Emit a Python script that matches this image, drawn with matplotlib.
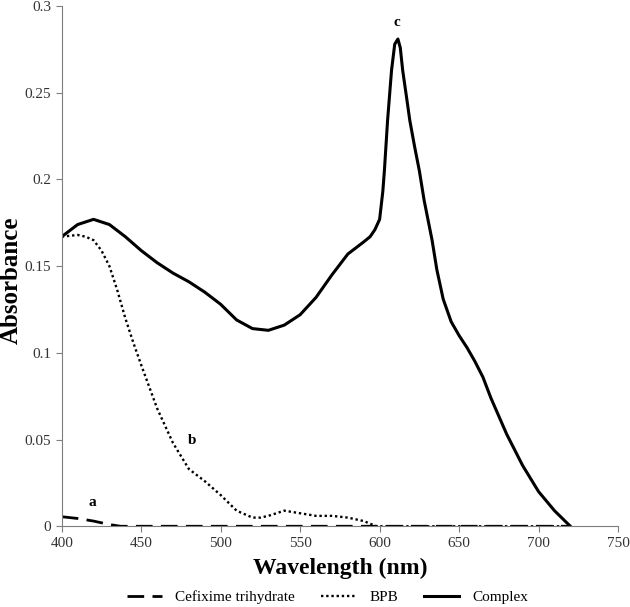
import numpy as np
import matplotlib
matplotlib.use('Agg')
import matplotlib.pyplot as plt

plt.rcParams['font.family'] = ['Liberation Serif', 'DejaVu Serif']

# Complex (c)
wl_c = [400, 410, 420, 430, 440, 450, 460, 470, 480, 490, 500, 510, 520, 530, 540,
        550, 560, 570, 580, 590, 594, 597, 600, 602, 603, 605, 607.5, 609.5, 611.5,
        613, 614.5, 617, 619, 622, 625, 628, 633, 636, 640, 645, 650, 655, 660,
        665, 670, 680, 690, 700, 710, 720]
ab_c = [0.167, 0.174, 0.177, 0.174, 0.167, 0.159, 0.152, 0.146, 0.141, 0.135, 0.128,
        0.119, 0.114, 0.113, 0.116, 0.122, 0.132, 0.145, 0.157, 0.164, 0.167, 0.171,
        0.177, 0.193, 0.205, 0.234, 0.263, 0.278, 0.281, 0.276, 0.263, 0.247, 0.234,
        0.219, 0.205, 0.188, 0.165, 0.148, 0.131, 0.118, 0.110, 0.103, 0.095, 0.086,
        0.074, 0.053, 0.035, 0.020, 0.009, 0.0]

# BPB (b)
wl_b = [400, 410, 415, 420, 425, 430, 435, 440, 445, 450, 460, 470, 480, 490, 500,
        510, 520, 525, 530, 540, 550, 560, 570, 580, 590, 598, 650, 720]
ab_b = [0.167, 0.168, 0.167, 0.165, 0.159, 0.150, 0.136, 0.120, 0.106, 0.093, 0.068,
        0.048, 0.033, 0.026, 0.018, 0.009, 0.005, 0.005, 0.006, 0.009, 0.0075, 0.006,
        0.006, 0.005, 0.003, 0.0, 0.0, 0.0]

# Cefixime trihydrate (a)
wl_a = [400, 410, 420, 430, 437, 500, 600, 720]
ab_a = [0.0055, 0.0045, 0.003, 0.001, 0.0, 0.0, 0.0, 0.0]

fig = plt.figure(figsize=(6.3, 6.07), dpi=100)
ax = fig.add_axes([0.098, 0.133, 0.883, 0.857])

ax.plot(wl_a, ab_a, color='black', lw=2, dashes=(6, 3), label='Cefixime trihydrate')
ax.plot(wl_b, ab_b, color='black', lw=1.7, linestyle=(0, (1, 1.2)), label='BPB')
ax.plot(wl_c, ab_c, color='black', lw=2.2, label='Complex')

ax.text(419, 0.010, 'a', fontsize=11, fontweight='bold', ha='center', va='bottom')
ax.text(482, 0.046, 'b', fontsize=11, fontweight='bold', ha='center', va='bottom')
ax.text(611, 0.287, 'c', fontsize=11, fontweight='bold', ha='center', va='bottom')

ax.set_xlim(400, 750)
ax.set_ylim(0, 0.3)
ax.set_xticks([400, 450, 500, 550, 600, 650, 700, 750])
ax.set_yticks([0, 0.05, 0.1, 0.15, 0.2, 0.25, 0.3])
ax.set_yticklabels(['0', '0.05', '0.1', '0.15', '0.2', '0.25', '0.3'])
for s in ['top', 'right']:
    ax.spines[s].set_visible(False)
for s in ['left', 'bottom']:
    ax.spines[s].set_color('#7f7f7f')
ax.tick_params(colors='#7f7f7f', labelcolor='#333333', labelsize=11, length=4)

ax.set_xlabel('Wavelength (nm)', fontsize=17, fontweight='bold', labelpad=6)
fig.text(11 / 630, 1 - 280 / 607, 'Absorbance', fontsize=18, fontweight='bold',
         rotation=90, ha='center', va='center')

fig.legend(*ax.get_legend_handles_labels(), loc='center', bbox_to_anchor=(0.52, 0.0165),
           ncol=3, frameon=False, fontsize=11, handlelength=2.3, handletextpad=0.85,
           columnspacing=1.7, borderaxespad=0, borderpad=0)

fig.savefig('out.png', dpi=100)
